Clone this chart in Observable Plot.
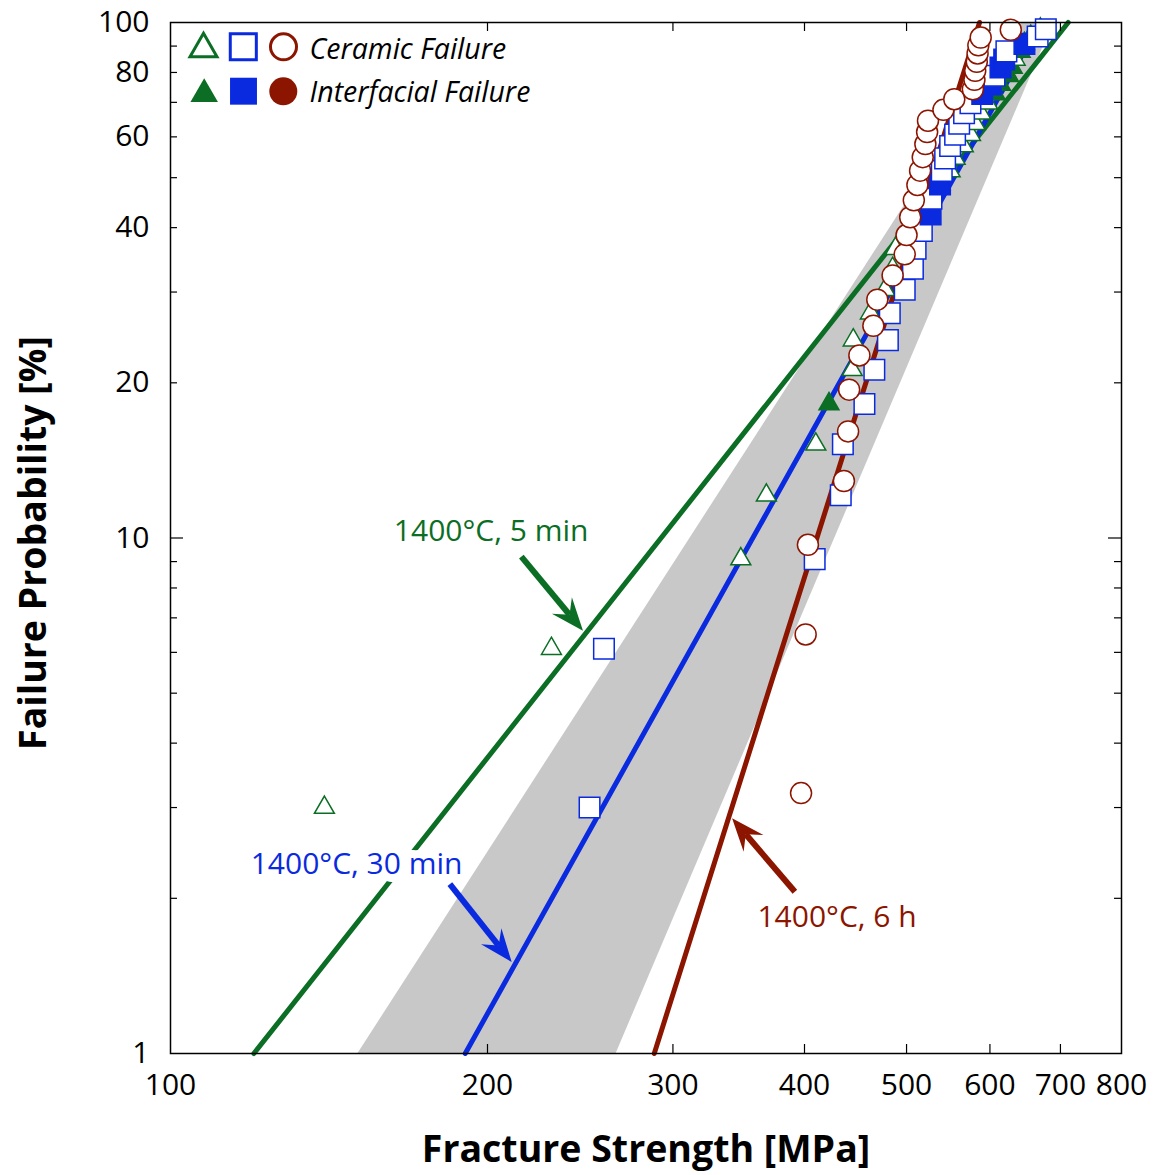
<!DOCTYPE html>
<html>
<head>
<meta charset="utf-8">
<script src="https://cdn.jsdelivr.net/npm/d3@7"></script>
<script src="https://cdn.jsdelivr.net/npm/@observablehq/plot@0.6"></script>
<style>
  body { margin: 0; background: #fff; }
  #chart svg { display: block; }
</style>
</head>
<body>
<div id="chart"></div>
<script>
// Plotting positions i/(n+1) in percent, for groups of 32 and 30 specimens
const rankProb32 = [3.0, 6.1, 9.1, 12.1, 15.2, 18.2, 21.2, 24.2, 27.3, 30.3, 33.3, 36.4, 39.4, 42.4, 45.5, 48.5,
                    51.5, 54.5, 57.6, 60.6, 63.6, 66.7, 69.7, 72.7, 75.8, 78.8, 81.8, 84.8, 87.9, 90.9, 93.9, 97.0];
const rankProb30 = [3.2, 6.5, 9.7, 12.9, 16.1, 19.4, 22.6, 25.8, 29.0, 32.3, 35.5, 38.7, 41.9, 45.2, 48.4,
                    51.6, 54.8, 58.1, 61.3, 64.5, 67.7, 71.0, 74.2, 77.4, 80.6, 83.9, 87.1, 90.3, 93.5, 96.8];

// Ranked fracture strengths [MPa] and failure origin (C = ceramic, I = interfacial)
const strength5min = [140, 230, 348, 368, 410, 422, 444, 445, 462, 477, 485, 488, 499, 510, 527, 538,
                      550, 556, 566, 575, 581, 588, 597, 607, 614, 625, 630, 634, 641, 647, 656, 670];
const mode5min = ["C","C","C","C","C","I","C","C","C","C","C","C","C","C","C","C",
                  "C","C","C","C","C","C","C","I","I","I","I","C","I","I","I","I"];

const strength30min = [250, 258, 409, 433, 435, 456, 466, 480, 482, 498, 507, 510, 517, 527, 528, 538,
                       540, 544, 550, 556, 561, 567, 575, 590, 601, 606, 614, 619, 622, 647, 666, 678];
const mode30min = ["C","C","C","C","C","C","C","C","C","C","C","C","C","I","C","I",
                   "C","C","C","C","C","C","C","I","I","C","I","I","C","I","C","C"];

const strength6h = [397, 401, 403, 436, 440, 441, 451, 465, 469, 485, 498, 500, 504, 508, 512,
                    515, 518, 521, 523, 524, 542, 555, 578, 580, 581, 583, 584, 585, 588, 628];
const mode6h = Array(30).fill("C");

// Weibull fit lines: strength at 1 % and at 100 %
const fitProb = [1, 100];
const fit5min = [120, 712];
const fit30min = [190.5, 670];
const fit6h = [288, 586.5];

// Shaded scatter band (lower and upper strength bound at 1 % and 100 %)
const bandLower = [150.7, 644];
const bandUpper = [265, 689.5];

// Axis ticks and labels
const xTickLabels = [100, 200, 300, 400, 500, 600, 700, 800];
const xMinorTicks = [200, 300, 400, 500, 600, 700];
const yTickLabels = [1, 10, 20, 40, 60, 80, 100];
const yMajorTicks = [10];
const yMinorTicks = [2, 3, 4, 5, 6, 7, 8, 9, 20, 30, 40, 50, 60, 70, 80, 90];

const GREEN = "#0b6e24";
const BLUE = "#0a2ae0";
const RED = "#8c1500";
const FONT = "'Open Sans', 'Noto Sans', sans-serif";

const rows = (strength, prob, mode) => strength.map((s, i) => ({s, p: prob[i], m: mode[i]}));
const data5min = rows(strength5min, rankProb32, mode5min);
const data30min = rows(strength30min, rankProb32, mode30min);
const data6h = rows(strength6h, rankProb30, mode6h);

const fitRows = (xs) => xs.map((s, i) => ({s, p: fitProb[i]}));
const bandRows = bandLower.map((lo, i) => ({lo, hi: bandUpper[i], p: fitProb[i]}));

// Annotations: label centre, arrow tail and arrow tip in data coordinates
const notes = [
  {text: "1400°C, 5 min", color: GREEN, at: [201.6, 10.29], from: [215.6, 9.18], to: [246.7, 6.59]},
  {text: "1400°C, 30 min", color: BLUE, at: [150.2, 2.326], from: [184.4, 2.127], to: [211.1, 1.501]},
  {text: "1400°C, 6 h", color: RED, at: [429.5, 1.840], from: [392.1, 2.055], to: [341.8, 2.853]}
];

// Arrow with a notched, filled head, placed through the plot's scales
function arrowMark(note) {
  return (index, scales) => {
    const x0 = scales.x(note.from[0]), y0 = scales.y(note.from[1]);
    const x1 = scales.x(note.to[0]), y1 = scales.y(note.to[1]);
    const len = Math.hypot(x1 - x0, y1 - y0);
    const ux = (x1 - x0) / len, uy = (y1 - y0) / len;
    const nx = -uy, ny = ux;
    const L = 33, W = 13, N = 21;
    const bx = x1 - ux * L, by = y1 - uy * L;
    const kx = x1 - ux * N, ky = y1 - uy * N;
    const g = d3.create("svg:g");
    g.append("line")
      .attr("x1", x0).attr("y1", y0).attr("x2", kx).attr("y2", ky)
      .attr("stroke", note.color).attr("stroke-width", 6);
    g.append("path")
      .attr("d", `M${x1},${y1}L${bx + nx * W},${by + ny * W}L${kx},${ky}L${bx - nx * W},${by - ny * W}Z`)
      .attr("fill", note.color);
    return g.node();
  };
}

const W = 1156, H = 1175;
const mL = 170, mR = 35, mT = 22, mB = 122;
const innerW = W - mL - mR, innerH = H - mT - mB;

const symbols = (data, symbol, color, r) => Plot.dot(data, {
  x: "s", y: "p", symbol, r,
  stroke: color, strokeWidth: 1.5,
  fill: d => d.m === "I" ? color : "white"
});

const legendDot = (symbol, color, filled, r, dx, dy) => Plot.dot([0], {
  frameAnchor: "top-left", dx, dy, symbol, r,
  fill: filled ? color : "white", stroke: filled ? "none" : color, strokeWidth: 3
});

const chart = Plot.plot({
  width: W, height: H,
  marginLeft: mL, marginRight: mR, marginTop: mT, marginBottom: mB,
  x: {type: "log", domain: [100, 800], axis: null},
  y: {type: "log", domain: [1, 100], axis: null},
  style: {fontFamily: FONT, background: "white", overflow: "visible"},
  marks: [
    Plot.areaX(bandRows, {y: "p", x1: "lo", x2: "hi", fill: "#c8c8c8"}),
    Plot.line(fitRows(fit5min), {x: "s", y: "p", stroke: GREEN, strokeWidth: 5}),
    Plot.line(fitRows(fit30min), {x: "s", y: "p", stroke: BLUE, strokeWidth: 5}),
    Plot.line(fitRows(fit6h), {x: "s", y: "p", stroke: RED, strokeWidth: 5}),

    symbols(data5min, "triangle", GREEN, 7.4),
    symbols(data30min, "square", BLUE, 11.6),
    symbols(data6h, "circle", RED, 10.5),

    // annotations, with a wide white halo so lines pass behind the labels
    ...notes.map(arrowMark),
    ...notes.map(n => Plot.text([n], {
      x: d => d.at[0], y: d => d.at[1], text: "text",
      fill: n.color, stroke: "white", strokeWidth: 16, strokeLinejoin: "round", fontSize: 30,
      textAnchor: "middle", lineAnchor: "middle"
    })),

    // frame and inward ticks on all four sides
    Plot.frame({stroke: "black", strokeWidth: 1.5}),
    Plot.tickY(yMinorTicks, {y: d => d, insetRight: innerW - 7, stroke: "black", strokeWidth: 1.2}),
    Plot.tickY(yMinorTicks, {y: d => d, insetLeft: innerW - 7, stroke: "black", strokeWidth: 1.2}),
    Plot.tickY(yMajorTicks, {y: d => d, insetRight: innerW - 13, stroke: "black", strokeWidth: 1.2}),
    Plot.tickY(yMajorTicks, {y: d => d, insetLeft: innerW - 13, stroke: "black", strokeWidth: 1.2}),
    Plot.tickX(xMinorTicks, {x: d => d, insetTop: innerH - 9, stroke: "black", strokeWidth: 1.2}),
    Plot.tickX(xMinorTicks, {x: d => d, insetBottom: innerH - 9, stroke: "black", strokeWidth: 1.2}),

    // tick labels
    Plot.text(yTickLabels, {y: d => d, text: d => String(d), frameAnchor: "left", dx: -21,
      textAnchor: "end", lineAnchor: "middle", fontSize: 30, fill: "black"}),
    Plot.text(xTickLabels, {x: d => d, text: d => String(d), frameAnchor: "bottom", dy: 32,
      textAnchor: "middle", lineAnchor: "middle", fontSize: 30, fill: "black"}),

    // axis titles
    Plot.text(["Fracture Strength [MPa]"], {frameAnchor: "bottom", dy: 96, fontSize: 37.5,
      textAnchor: "middle", lineAnchor: "middle", fontWeight: "bold", fill: "black"}),
    Plot.text(["Failure Probability [%]"], {frameAnchor: "left", dx: -137, dy: 5, rotate: -90,
      textAnchor: "middle", lineAnchor: "middle", fontSize: 37.5, fontWeight: "bold", fill: "black"}),

    // legend
    legendDot("triangle", GREEN, false, 10.0, 33, 26.4),
    legendDot("square", BLUE, false, 14.7, 72.8, 24.3),
    legendDot("circle", RED, false, 13, 113, 24.3),
    legendDot("triangle", GREEN, true, 10.2, 33.7, 71.6),
    legendDot("square", BLUE, true, 15.2, 73, 68.7),
    legendDot("circle", RED, true, 14, 112.8, 68.8),
    Plot.text(["Ceramic Failure"], {frameAnchor: "top-left", dx: 139, dy: 27.5, textAnchor: "start",
      lineAnchor: "middle", fontSize: 28.5, fontStyle: "italic", fill: "black"}),
    Plot.text(["Interfacial Failure"], {frameAnchor: "top-left", dx: 139, dy: 70.5, textAnchor: "start",
      lineAnchor: "middle", fontSize: 28.5, fontStyle: "italic", fill: "black"})
  ]
});

document.getElementById("chart").appendChild(chart);
</script>
</body>
</html>
